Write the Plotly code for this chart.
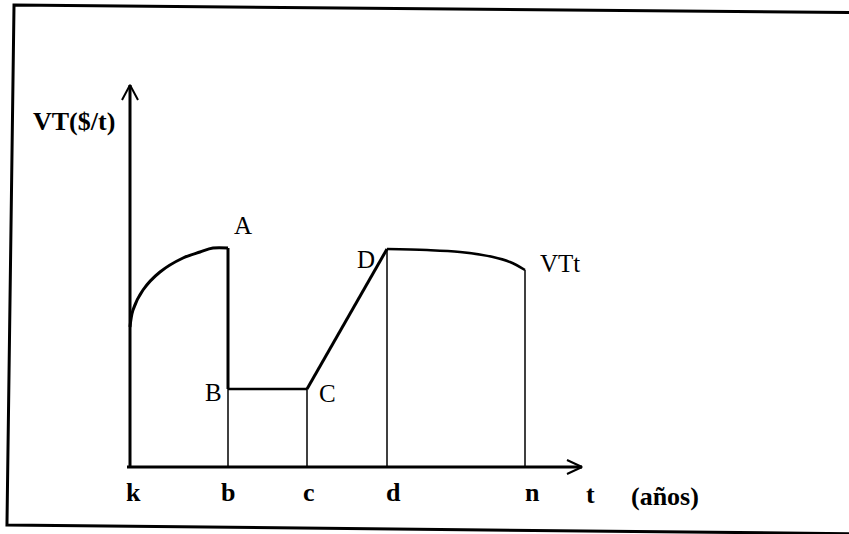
import plotly.graph_objects as go

# time marks along the t axis (chart units)
t_k = 0.0
t_b = 9.8
t_c = 17.7
t_d = 25.7
t_n = 39.5
t_max = 45.2      # tip of the t arrow
vt_max = 38.2     # tip of the VT arrow

# k -> A : rising value
rise_t = [0.0, 0.3, 1.3, 3.0, 5.3, 7.0, 8.3, 9.8]
rise_vt = [14.0, 15.7, 17.7, 19.5, 20.9, 21.5, 21.9, 21.9]

# B -> C flat, C -> D linear recovery
vt_B = 7.8
vt_D = 21.8

# D -> n : slow decline (VTt)
decline_t = [25.7, 29.7, 33.0, 36.3, 38.0, 39.5]
decline_vt = [21.8, 21.7, 21.5, 21.0, 20.5, 19.7]

x_labels = ['k', 'b', 'c', 'd', 'n']
x_label_pos = [t_k, t_b, t_c, t_d, t_n]

W, H = 849, 534
FONT = 'Liberation Serif'
THICK = 3
THIN = 1.5


def seg(x, y, width):
    return go.Scatter(x=x, y=y, mode='lines', hoverinfo='skip',
                      line=dict(color='black', width=width))


fig = go.Figure()

# axes with open arrow heads
fig.add_trace(seg([t_k, t_k], [0, vt_max], THICK))
fig.add_trace(seg([t_k - 0.8, t_k, t_k + 0.8], [vt_max - 1.5, vt_max, vt_max - 1.5], 2))
fig.add_trace(seg([t_k - 0.3, t_max], [0, 0], THICK))
fig.add_trace(seg([t_max - 1.5, t_max, t_max - 1.5], [0.7, 0, -0.7], 2))

# k -> A curve
fig.add_trace(go.Scatter(x=rise_t, y=rise_vt, mode='lines', hoverinfo='skip',
                         line=dict(color='black', width=THICK, shape='spline')))
# drop A -> B, then thin line to axis
fig.add_trace(seg([t_b, t_b], [rise_vt[-1], vt_B], THICK))
fig.add_trace(seg([t_b, t_b], [vt_B, 0], THIN))
# B -> C
fig.add_trace(seg([t_b, t_c], [vt_B, vt_B], 2.5))
fig.add_trace(seg([t_c, t_c], [vt_B, 0], THIN))
# C -> D
fig.add_trace(seg([t_c, t_d], [vt_B, vt_D], THICK))
fig.add_trace(seg([t_d, t_d], [0, vt_D], THIN))
# D -> n
fig.add_trace(go.Scatter(x=decline_t, y=decline_vt, mode='lines', hoverinfo='skip',
                         line=dict(color='black', width=2.5, shape='spline')))
fig.add_trace(seg([t_n, t_n], [0, decline_vt[-1]], THIN))

# point labels
pts = [('A', t_b + 1.5, 24.2), ('B', t_b - 1.5, vt_B - 0.3),
       ('C', t_c + 2.0, vt_B - 0.4), ('D', t_d - 2.1, vt_D - 1.0),
       ('VTt', t_n + 3.5, 20.4)]
for txt, x, y in pts:
    fig.add_annotation(x=x, y=y, text=txt, showarrow=False,
                       font=dict(family=FONT, size=25, color='black'))

shifts = [3, 0, 2, 6, 7]
for txt, x, s in zip(x_labels, x_label_pos, shifts):
    fig.add_annotation(x=x, y=-2.5, text='<b>' + txt + '</b>', showarrow=False,
                       xshift=s, font=dict(family=FONT, size=26, color='black'))
fig.add_annotation(x=46.0, y=-2.7, text='<b>t</b>', showarrow=False,
                   font=dict(family=FONT, size=26, color='black'))
fig.add_annotation(x=53.5, y=-2.9, text='<b>(años)</b>', showarrow=False,
                   font=dict(family=FONT, size=26, color='black'))
fig.add_annotation(x=-5.6, y=34.6, text='<b>VT($/t)</b>', showarrow=False,
                   font=dict(family=FONT, size=26, color='black'))

# scanned frame, slightly rotated; right side runs off the page
corners = [(14, 5), (890, 13), (880, 534), (7, 525)]
path = 'M ' + ' L '.join(f'{x / W:.4f},{1 - y / H:.4f}' for x, y in corners) + ' Z'
fig.add_shape(type='path', path=path, xref='paper', yref='paper',
              line=dict(color='black', width=3))

fig.update_layout(
    width=W, height=H,
    margin=dict(l=0, r=0, t=0, b=0, pad=0),
    paper_bgcolor='white', plot_bgcolor='white',
    showlegend=False,
    xaxis=dict(range=[-13.0, 71.9], visible=False, fixedrange=True),
    yaxis=dict(range=[-6.7, 46.7], visible=False, fixedrange=True),
)

fig.write_html("out.html", config={'displayModeBar': False},
               post_script="document.body.style.margin='0';"
                           "document.body.style.overflow='hidden';")
